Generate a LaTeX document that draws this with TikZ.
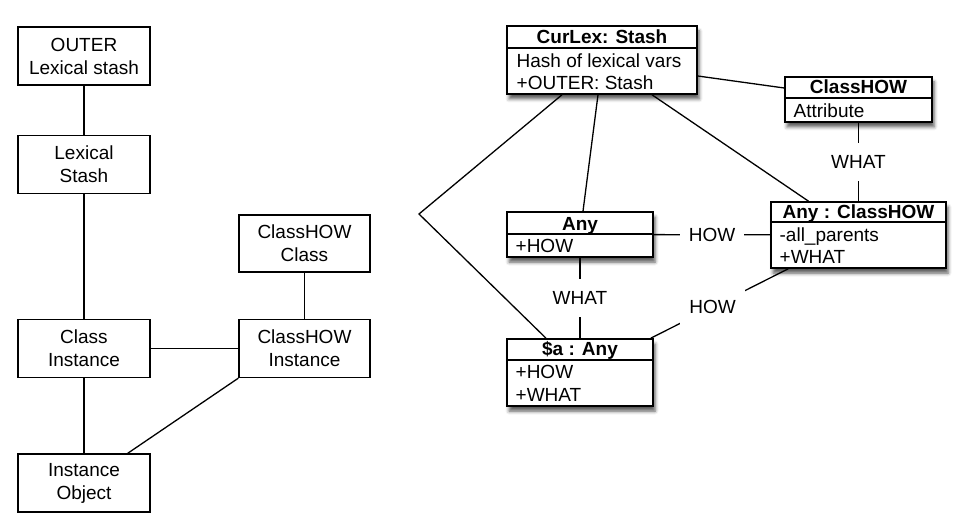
\documentclass[tikz,border=0pt]{standalone}
\usepackage{fontspec}
\setmainfont{Liberation Sans}
\usetikzlibrary{shadows.blur}
\begin{document}
\begin{tikzpicture}[x=1pt,y=-1pt,line width=1.3pt,
  plainbox/.style={draw,line width=1.3pt,fill=white,minimum width=132pt,minimum height=58pt,inner sep=0pt,align=center,font=\fontsize{19}{23}\selectfont},
  umlbox/.style={draw,line width=1.6pt,fill=white,inner sep=0pt,blur shadow={shadow xshift=2pt,shadow yshift=-5pt,shadow blur radius=3.5pt,shadow opacity=65}},
  umltitle/.style={anchor=base,inner sep=0pt,font=\fontsize{19}{23}\selectfont\bfseries},
  umlbody/.style={anchor=north west,inner sep=0pt,align=left,font=\fontsize{19}{22.5}\selectfont},
  lbl/.style={fill=white,inner xsep=9pt,inner ysep=12pt,font=\fontsize{19}{23}\selectfont}]
            \useasboundingbox (0,0) rectangle (978,529);

            % left part
            \node[plainbox] (outer) at (84,56) {OUTER\\Lexical stash};
            \node[plainbox] (lexstash) at (84,164.5) {Lexical\\Stash};
            \node[plainbox] (classinst) at (84,348.5) {Class\\Instance};
            \node[plainbox] (instobj) at (84,483) {Instance\\Object};
            \node[plainbox,minimum width=131pt,minimum height=57pt] (howclass) at (304.5,243.5) {ClassHOW\\Class};
            \node[plainbox,minimum width=131pt] (howinst) at (304.5,348.5) {ClassHOW\\Instance};

            \draw (outer)--(lexstash);
            \draw (lexstash)--(classinst);
            \draw (classinst)--(instobj);
            \draw (classinst)--(howinst);
            \draw (howclass)--(howinst);
            \draw (howinst.south west)--(instobj);

            % right part
            \node[umlbox,minimum width=190pt,minimum height=68pt] (curlex) at (602,60) {};
            \draw[line width=1.4pt] ([yshift=-23pt]curlex.north west)--([yshift=-23pt]curlex.north east);
            \node[umltitle] (curlexT) at (602,44) {CurLex: Stash};
            \node[umlbody] (curlexB) at (516,53) {Hash of lexical vars\\+OUTER: Stash};

            \node[umlbox,minimum width=147pt,minimum height=45pt] (classhow) at (858.5,99.5) {};
            \draw[line width=1.4pt] ([yshift=-22pt]classhow.north west)--([yshift=-22pt]classhow.north east);
            \node[umltitle] (classhowT) at (858.5,94) {ClassHOW};
            \node[umlbody] (classhowB) at (793,103) {Attribute};

            \node[umlbox,minimum width=175pt,minimum height=66pt] (anyclass) at (858.5,235) {};
            \draw[line width=1.4pt] ([yshift=-21pt]anyclass.north west)--([yshift=-21pt]anyclass.north east);
            \node[umltitle] (anyclassT) at (858.5,219) {Any : ClassHOW};
            \node[umlbody] (anyclassB) at (779,227) {-all\_parents\\+WHAT};

            \node[umlbox,minimum width=146pt,minimum height=45pt] (anyobj) at (580,234.5) {};
            \draw[line width=1.4pt] ([yshift=-23pt]anyobj.north west)--([yshift=-23pt]anyobj.north east);
            \node[umltitle] (anyobjT) at (580,231) {Any};
            \node[umlbody] (anyobjB) at (515,239) {+HOW};

            \node[umlbox,minimum width=146pt,minimum height=67pt] (adollar) at (580,372.5) {};
            \draw[line width=1.4pt] ([yshift=-22pt]adollar.north west)--([yshift=-22pt]adollar.north east);
            \node[umltitle] (adollarT) at (580,356) {\$a : Any};
            \node[umlbody] (adollarB) at (515,365) {+HOW\\+WHAT};

            \coordinate (bend) at (419,214);

            \draw ([yshift=-16pt]curlex.east)--([yshift=11.5pt]classhow.west);
            \draw ([xshift=-4pt]curlex.south)--([xshift=3pt]anyobj.north);
            \draw ([xshift=50pt]curlex.south)--([xshift=-50pt]anyclass.north);
            \draw ([xshift=-40pt]curlex.south)--(bend)--([xshift=-34pt]adollar.north);
            \draw (classhow)--node[lbl] (whatA) {WHAT} (anyclass);
            \draw (anyobj)--node[lbl] (howA) {HOW} (anyclass);
            \draw (anyobj)--node[lbl] (whatB) {WHAT} (adollar);
            \draw ([xshift=18pt]anyclass.south west)--node[lbl,pos=0.55] (howB) {HOW} ([xshift=-3pt]adollar.north east);
        \end{tikzpicture}
\end{document}
